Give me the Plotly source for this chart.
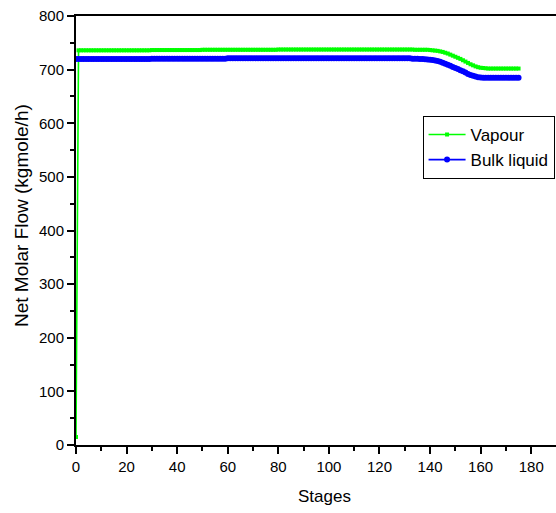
import plotly.graph_objects as go

# Stage numbers along the column
stages = list(range(0, 176))

# Net molar flow of the vapour phase per stage (kgmole/h)
vapour = [
    15, 736, 736, 736, 736, 736, 736, 736, 736, 736,
    736, 736, 736, 736, 736, 736, 736, 736, 736, 736,
    736, 736, 736, 736, 736, 736, 736, 736, 736, 736,
    736.5, 736.5, 736.5, 736.5, 736.5, 736.5, 736.5, 736.5, 736.5, 736.5,
    736.5, 736.5, 736.5, 736.5, 736.5, 736.5, 736.5, 736.5, 736.5, 736.5,
    737, 737, 737, 737, 737, 737, 737, 737, 737, 737,
    737, 737, 737, 737, 737, 737, 737, 737, 737, 737,
    737, 737, 737, 737, 737, 737, 737, 737, 737, 737,
    737.5, 737.5, 737.5, 737.5, 737.5, 737.5, 737.5, 737.5, 737.5, 737.5,
    737.5, 737.5, 737.5, 737.5, 737.5, 737.5, 737.5, 737.5, 737.5, 737.5,
    737.5, 737.5, 737.5, 737.5, 737.5, 737.5, 737.5, 737.5, 737.5, 737.5,
    737.5, 737.5, 737.5, 737.5, 737.5, 737.5, 737.5, 737.5, 737.5, 737.5,
    737.5, 737.5, 737.5, 737.5, 737.5, 737.5, 737.5, 737.5, 737.5, 737.5,
    737.5, 737.5, 737.5, 737.5, 737, 737, 737, 737, 737, 737,
    736.5, 736, 735.5, 735, 734, 733, 731.5, 730, 728, 726,
    724, 722, 720, 717.5, 715, 712.5, 710, 708, 706, 704.5,
    703.5, 703, 702.5, 702, 702, 702, 702, 702, 702, 702,
    702, 702, 702, 702, 702, 702,
]

# Net molar flow of the bulk liquid per stage (kgmole/h)
bulk_liquid = [
    720, 720, 720, 720, 720, 720, 720, 720, 720, 720,
    720, 720, 720, 720, 720, 720, 720, 720, 720, 720,
    720, 720, 720, 720, 720, 720, 720, 720, 720, 720,
    720.5, 720.5, 720.5, 720.5, 720.5, 720.5, 720.5, 720.5, 720.5, 720.5,
    720.5, 720.5, 720.5, 720.5, 720.5, 720.5, 720.5, 720.5, 720.5, 720.5,
    720.5, 720.5, 720.5, 720.5, 720.5, 720.5, 720.5, 720.5, 720.5, 720.5,
    721, 721, 721, 721, 721, 721, 721, 721, 721, 721,
    721, 721, 721, 721, 721, 721, 721, 721, 721, 721,
    721, 721, 721, 721, 721, 721, 721, 721, 721, 721,
    721, 721, 721, 721, 721, 721, 721, 721, 721, 721,
    721, 721, 721, 721, 721, 721, 721, 721, 721, 721,
    721, 721, 721, 721, 721, 721, 721, 721, 721, 721,
    721, 721, 721, 721, 721, 721, 721, 721, 721, 721,
    721, 721, 721, 720.5, 720.5, 720.5, 720, 720, 719.5, 719,
    718.5, 718, 717, 716, 714.5, 713, 711, 709, 707, 705,
    703, 701, 699, 697, 694.5, 692, 690, 688.5, 687, 686,
    685.5, 685, 685, 685, 685, 685, 685, 685, 685, 685,
    685, 685, 685, 685, 685, 685,
]

x_ticks = [0, 20, 40, 60, 80, 100, 120, 140, 160, 180]
y_ticks = [0, 100, 200, 300, 400, 500, 600, 700, 800]

FONT = "Liberation Sans, Arial, sans-serif"

fig = go.Figure()
fig.add_trace(go.Scatter(
    x=stages, y=vapour, name="Vapour",
    mode="lines+markers",
    line=dict(color="#00ff00", width=1.6),
    marker=dict(symbol="square", size=4, color="#00ff00"),
))
fig.add_trace(go.Scatter(
    x=stages, y=bulk_liquid, name="Bulk liquid",
    mode="lines+markers",
    line=dict(color="#0000ff", width=1.6),
    marker=dict(symbol="circle", size=6, color="#0000ff"),
))

fig.update_layout(
    width=556, height=513,
    margin=dict(l=76, r=0, t=16, b=68),
    paper_bgcolor="white", plot_bgcolor="white",
    font=dict(family=FONT, color="black", size=15),
    showlegend=True,
    legend=dict(
        x=0.722, y=0.767, xanchor="left", yanchor="top",
        bgcolor="white", bordercolor="black", borderwidth=1,
        font=dict(family=FONT, size=17, color="black"),
        tracegroupgap=0, itemwidth=37,
    ),
    xaxis=dict(
        range=[0, 189.8],
        tickvals=x_ticks,
        ticks="outside", ticklen=7, tickwidth=1.5, tickcolor="black",
        showline=True, linecolor="black", linewidth=2, mirror=True,
        showgrid=False, zeroline=False,
        tickfont=dict(family=FONT, size=15, color="black"),
        minor=dict(dtick=10, ticks="outside", ticklen=4, tickwidth=1.5, tickcolor="black"),
    ),
    yaxis=dict(
        range=[0, 800],
        tickvals=y_ticks,
        ticks="outside", ticklen=7, tickwidth=1.5, tickcolor="black",
        showline=True, linecolor="black", linewidth=2, mirror=False,
        showgrid=False, zeroline=False,
        tickfont=dict(family=FONT, size=15, color="black"),
        minor=dict(dtick=50, ticks="outside", ticklen=4, tickwidth=1.5, tickcolor="black"),
    ),
    annotations=[
        dict(
            text="Stages", xref="paper", yref="paper",
            x=(324 - 76) / 480, y=-(497 - 445) / 429,
            xanchor="center", yanchor="middle", showarrow=False,
            font=dict(family=FONT, size=17, color="black"),
        ),
        dict(
            text="Net Molar Flow (kgmole/h)", xref="paper", yref="paper",
            x=-(76 - 21.5) / 480, y=(445 - 215.5) / 429,
            xanchor="center", yanchor="middle", showarrow=False,
            textangle=-90,
            font=dict(family=FONT, size=19, color="black"),
        ),
    ],
)

fig.write_html("out.html")
